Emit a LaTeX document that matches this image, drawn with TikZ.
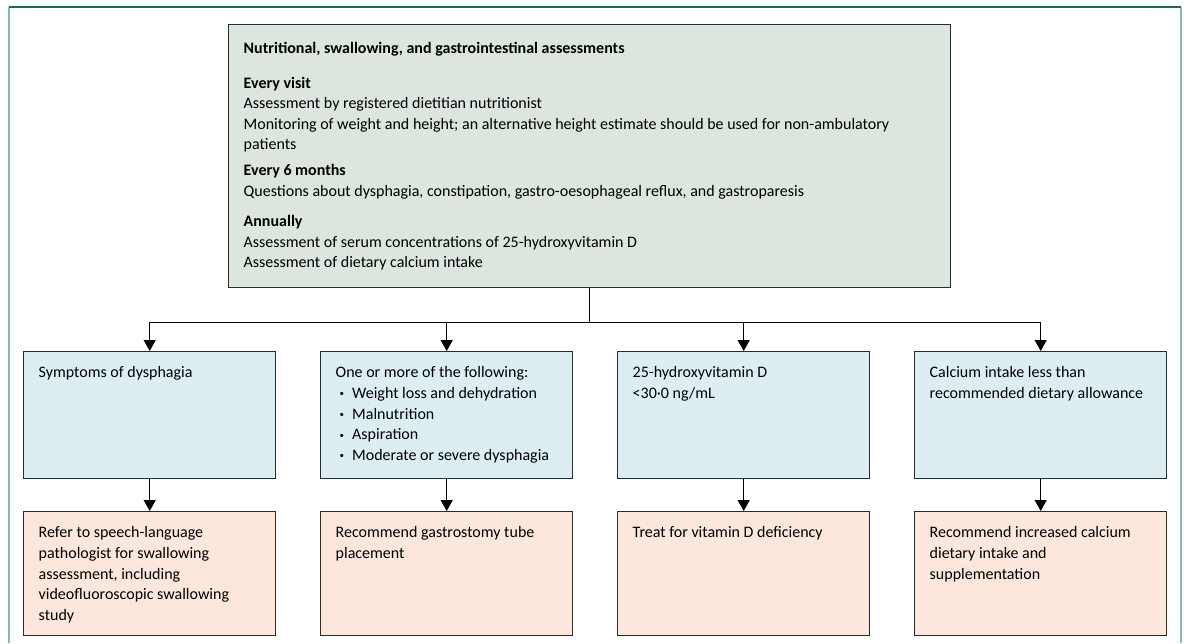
\documentclass[tikz,border=0pt]{standalone}
\usepackage{fontspec}
\setmainfont{Carlito}
\usepackage{tikz}
\usetikzlibrary{arrows.meta}
\definecolor{assessfill}{HTML}{DCE6DF}
\definecolor{findfill}{HTML}{DDEEF2}
\definecolor{actfill}{HTML}{FDE6DC}
\definecolor{framedark}{HTML}{1F6B45}
\definecolor{framelight}{HTML}{82BFA0}
\definecolor{edgegray}{HTML}{2B2B2B}
\newcommand{\boxbody}[3]{\parbox[c][#2][t]{#1}{\raggedright #3}}
\newcommand{\itm}{\hspace*{4pt}\raisebox{1.5pt}{\fontsize{9}{9}\selectfont\textbullet}\hspace*{8pt}}

\begin{document}
\begin{tikzpicture}[x=1pt,y=-1pt,
  box/.style={draw=edgegray,line width=1.4pt,anchor=north west,inner xsep=15pt,inner ysep=15pt,
    font=\fontsize{16}{20.6}\selectfont},
  assessbox/.style={box,fill=assessfill,inner ysep=17.5pt},
  findbox/.style={box,fill=findfill},
  actbox/.style={box,fill=actfill},
  link/.style={line width=1.3pt},
  arr/.style={link,-{Triangle[width=12pt,length=11pt]}}]
      \useasboundingbox (0,0) rectangle (1184,643);
      \draw[framelight,line width=2.5pt] (9,643) -- (9,7);
      \draw[framelight,line width=2.5pt] (1181,7) -- (1181,643);
      \draw[framedark,line width=1.5pt] (9,7) -- (1181,7);

      \node[assessbox] (assess) at (228,24) {\boxbody{692pt}{228pt}{%
        \textbf{Nutritional, swallowing, and gastrointestinal assessments}\\[14pt]
        \textbf{Every visit}\\
        Assessment by registered dietitian nutritionist\\
        Monitoring of weight and height; an alternative height estimate should be used for non-ambulatory\\
        patients\\[5pt]
        \textbf{Every 6 months}\\
        Questions about dysphagia, constipation, gastro-oesophageal reflux, and gastroparesis\\[10pt]
        \textbf{Annually}\\
        Assessment of serum concentrations of 25-hydroxyvitamin D\\
        Assessment of dietary calcium intake}};

      % findings
      \node[findbox] (sym) at (23,351) {\boxbody{222pt}{97pt}{Symptoms of dysphagia}};
      \node[findbox] (crit) at (320,351) {\boxbody{222pt}{97pt}{One or more of the following:\\
        \itm Weight loss and dehydration\\
        \itm Malnutrition\\
        \itm Aspiration\\
        \itm Moderate or severe dysphagia}};
      \node[findbox] (vitd) at (617,351) {\boxbody{222pt}{97pt}{25-hydroxyvitamin D\\<30·0 ng/mL}};
      \node[findbox] (calc) at (914,351) {\boxbody{222pt}{97pt}{Calcium intake less than\\recommended dietary allowance}};

      % actions
      \node[actbox] (refer) at (23,511) {\boxbody{222pt}{94pt}{Refer to speech-language\\pathologist for swallowing\\assessment, including\\videofluoroscopic swallowing\\study}};
      \node[actbox] (tube) at (320,511) {\boxbody{222pt}{94pt}{Recommend gastrostomy tube\\placement}};
      \node[actbox] (treat) at (617,511) {\boxbody{222pt}{94pt}{Treat for vitamin D deficiency}};
      \node[actbox] (suppl) at (914,511) {\boxbody{222pt}{94pt}{Recommend increased calcium\\dietary intake and\\supplementation}};

      \coordinate (split) at ([yshift=-34pt]assess.south);
      \draw[link] (assess.south) -- (split);
      \foreach \n in {sym,crit,vitd,calc}
        \draw[arr] (split) -| (\n.north);
      \foreach \a/\b in {sym/refer,crit/tube,vitd/treat,calc/suppl}
        \draw[arr] (\a) -- (\b);
    \end{tikzpicture}
\end{document}
